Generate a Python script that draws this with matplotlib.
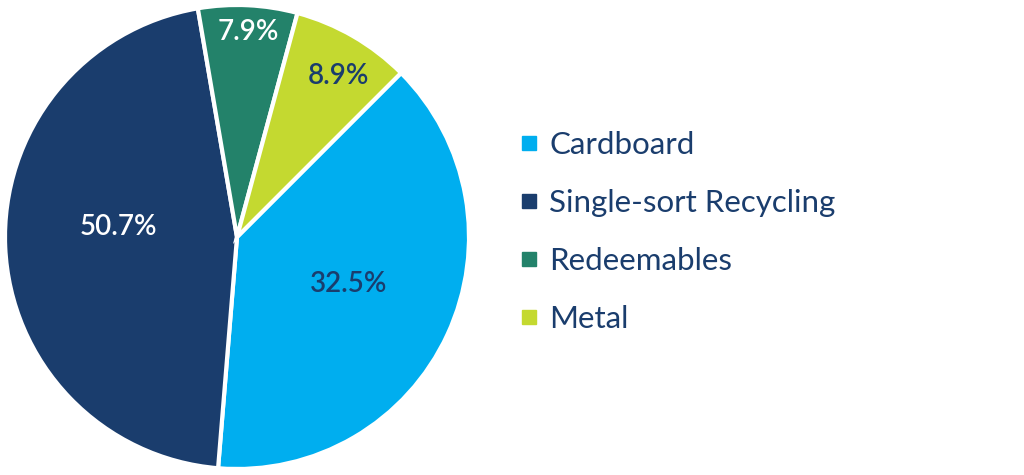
import numpy as np
import matplotlib.pyplot as plt
from matplotlib.lines import Line2D

# --- data (wedge shares as drawn, printed labels as shown) ---
categories = ['Cardboard', 'Single-sort Recycling', 'Redeemables', 'Metal']
shares = [38.8, 46.0, 6.9, 8.3]
pct_labels = ['32.5%', '50.7%', '7.9%', '8.9%']

colors = ['#00AEEF', '#1A3D6D', '#23826A', '#C4D930']
label_colors = ['#1A3D6D', 'white', 'white', '#1A3D6D']
label_dist = [0.52, 0.515, 0.885, 0.82]
label_turn = [-2, 7.5, 0.5, 2]   # small angular nudges (deg)

plt.rcParams['font.family'] = ['Lato', 'DejaVu Sans']
NAVY = '#1A3D6D'


def main():
    fig = plt.figure(figsize=(10.24, 4.75), dpi=100)
    ax = fig.add_axes([5 / 1024, 6 / 475, 464 / 1024, 464 / 475])

    wedges, _ = ax.pie(
        shares,
        colors=colors,
        startangle=45,
        counterclock=False,
        radius=1,
        wedgeprops=dict(edgecolor='white', linewidth=3),
    )
    ax.set_xlim(-1.0, 1.0)
    ax.set_ylim(-1.0, 1.0)
    ax.set_aspect('equal')
    ax.axis('off')

    # percentage labels inside the slices
    for w, txt, c, d, t in zip(wedges, pct_labels, label_colors, label_dist, label_turn):
        mid = np.deg2rad((w.theta1 + w.theta2) / 2 - t)
        ax.text(d * np.cos(mid), d * np.sin(mid), txt, color=c,
                fontsize=20, fontweight='semibold', ha='center', va='center')

    handles = [Line2D([], [], marker='s', linestyle='', markersize=10,
                      markerfacecolor=c, markeredgecolor=c) for c in colors]
    leg = fig.legend(handles, categories, loc='center left',
                     bbox_to_anchor=(518 / 1024, 243 / 475),
                     frameon=False, fontsize=22.5, labelspacing=0.96,
                     handlelength=0.7, handletextpad=0.3,
                     borderpad=0, borderaxespad=0)
    for t in leg.get_texts():
        t.set_color(NAVY)

    fig.savefig('out.png', dpi=100)


if __name__ == "__main__":
    main()
